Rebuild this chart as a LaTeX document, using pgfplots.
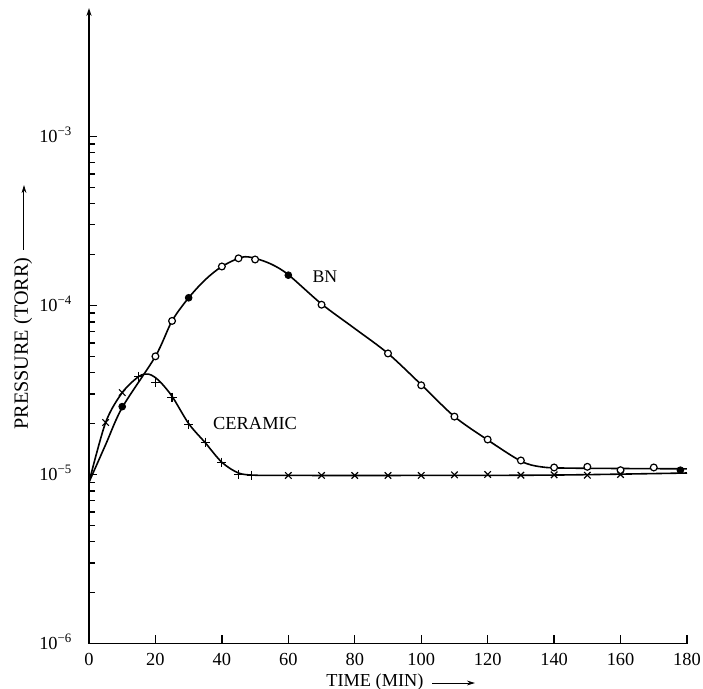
\documentclass[border=0pt]{standalone}
\usepackage{fontspec}
\setmainfont{Liberation Serif}
\usepackage{pgfplots}
\pgfplotsset{compat=1.18}
\usetikzlibrary{arrows.meta}

\begin{document}
\begin{tikzpicture}
\path[use as bounding box] (-44.5pt,-22.75pt) rectangle (307pt,321.75pt);
\begin{axis}[
  at={(0pt,0pt)}, anchor=south west,
  scale only axis, width=299pt, height=317.75pt,
  xmin=0, xmax=180,
  ymode=log, ymin=1e-6, ymax=5.75e-3,
  axis x line=bottom, axis y line=left,
  x axis line style={-, line width=0.85pt},
  y axis line style={-{Stealth[length=4pt,width=2.6pt]}, line width=0.85pt},
  tick align=inside,
  major tick length=4.2pt, minor tick length=2.8pt,
  tick style={black, line width=0.7pt},
  xtick={0,20,...,180},
  ytick={1e-6,1e-5,1e-4,1e-3},
  yticklabels={10\textsuperscript{−6},10\textsuperscript{−5},10\textsuperscript{−4},10\textsuperscript{−3}},
  minor ytick={2e-6,3e-6,4e-6,5e-6,6e-6,7e-6,8e-6,9e-6,
               2e-5,3e-5,4e-5,5e-5,6e-5,7e-5,8e-5,9e-5,
               2e-4,3e-4,4e-4,5e-4,6e-4,7e-4,8e-4,9e-4},
  /pgf/number format/assume math mode=true,
  ticklabel style={font=\fontsize{9.2}{10}\selectfont},
  xticklabel style={anchor=north, inner sep=0pt, yshift=-4.75pt},
  yticklabel style={anchor=base east, inner sep=0pt, xshift=-8.1pt, yshift=-3.2pt},
  xlabel={TIME (MIN)},
  xlabel style={at={(axis description cs:0.39632,-0.06798)}, anchor=base west, inner sep=0pt, font=\fontsize{9.15}{10}\selectfont},
  ylabel={PRESSURE (TORR)},
  ylabel style={at={(axis description cs:-0.10201,0.33596)}, anchor=base west, inner sep=0pt, font=\fontsize{10.1}{11}\selectfont},
  clip=false,
]
% BN curve
\addplot[black, line width=0.8pt, smooth] coordinates {
(0,9e-6) (5,1.5e-5) (10,2.49e-5) (20,5e-5) (25,8.1e-5) (30,1.11e-4) (35,1.42e-4) (40,1.7e-4)
(46,1.93e-4) (50,1.9e-4) (55,1.75e-4) (60,1.52e-4) (70,1.02e-4) (80,7.3e-5)
(90,5.2e-5) (100,3.4e-5) (110,2.2e-5) (120,1.6e-5) (130,1.2e-5) (136,1.11e-5)
(145,1.09e-5) (180,1.08e-5)};
% CERAMIC curve
\addplot[black, line width=0.8pt, smooth] coordinates {
(0,9e-6) (5,2.03e-5) (10,3.05e-5) (15,3.8e-5) (18,3.92e-5) (21,3.6e-5) (25,2.9e-5)
(30,2.0e-5) (35,1.54e-5) (40,1.18e-5) (45,1.02e-5) (50,9.9e-6) (60,9.87e-6)
(100,9.87e-6) (140,9.92e-6) (180,1.02e-5)};
% BN open circles
\addplot[only marks, mark=*, mark size=1.7pt, mark options={draw=black, fill=white, line width=0.6pt}] coordinates {
(20,5e-5) (25,8.1e-5) (40,1.7e-4) (45,1.9e-4) (50,1.87e-4) (70,1.01e-4) (90,5.2e-5)
(100,3.37e-5) (110,2.2e-5) (120,1.61e-5) (130,1.21e-5) (140,1.1e-5) (150,1.11e-5)
(160,1.06e-5) (170,1.1e-5)};
% BN filled circles
\addplot[only marks, mark=*, mark size=1.7pt, mark options={draw=black, fill=black}] coordinates {
(10,2.52e-5) (30,1.11e-4) (60,1.51e-4) (178,1.06e-5)};
% CERAMIC crosses (x)
\addplot[only marks, mark=x, mark size=2.3pt, mark options={line width=0.6pt}] coordinates {
(5,2.03e-5) (10,3.05e-5) (60,9.87e-6) (70,9.87e-6) (80,9.87e-6) (90,9.87e-6)
(100,9.87e-6) (110,9.95e-6) (120,1.0e-5) (130,9.9e-6) (140,9.95e-6) (150,9.9e-6)
(160,1.0e-5)};
% CERAMIC crosses (+)
\addplot[only marks, mark=+, mark size=2.3pt, mark options={line width=0.6pt}] coordinates {
(15,3.8e-5) (20,3.5e-5) (25,2.86e-5) (30,1.98e-5) (35,1.55e-5) (40,1.18e-5)
(45,1.0e-5) (49,9.9e-6)};
\node[font=\fontsize{8.9}{10}\selectfont] at (axis cs:71,1.47e-4) {BN};
\node[font=\fontsize{9.2}{10}\selectfont] at (axis cs:50,2.0e-5) {CERAMIC};
% label arrows
\draw[-{Stealth[length=4pt,width=2.4pt]}, line width=0.5pt]
  (axis description cs:0.5736,-0.06216) -- (axis description cs:0.6455,-0.06216);
\draw[-{Stealth[length=4pt,width=2.4pt]}, line width=0.5pt]
  (axis description cs:-0.1087,0.6192) -- (axis description cs:-0.1087,0.7215);
\end{axis}
\end{tikzpicture}
\end{document}
